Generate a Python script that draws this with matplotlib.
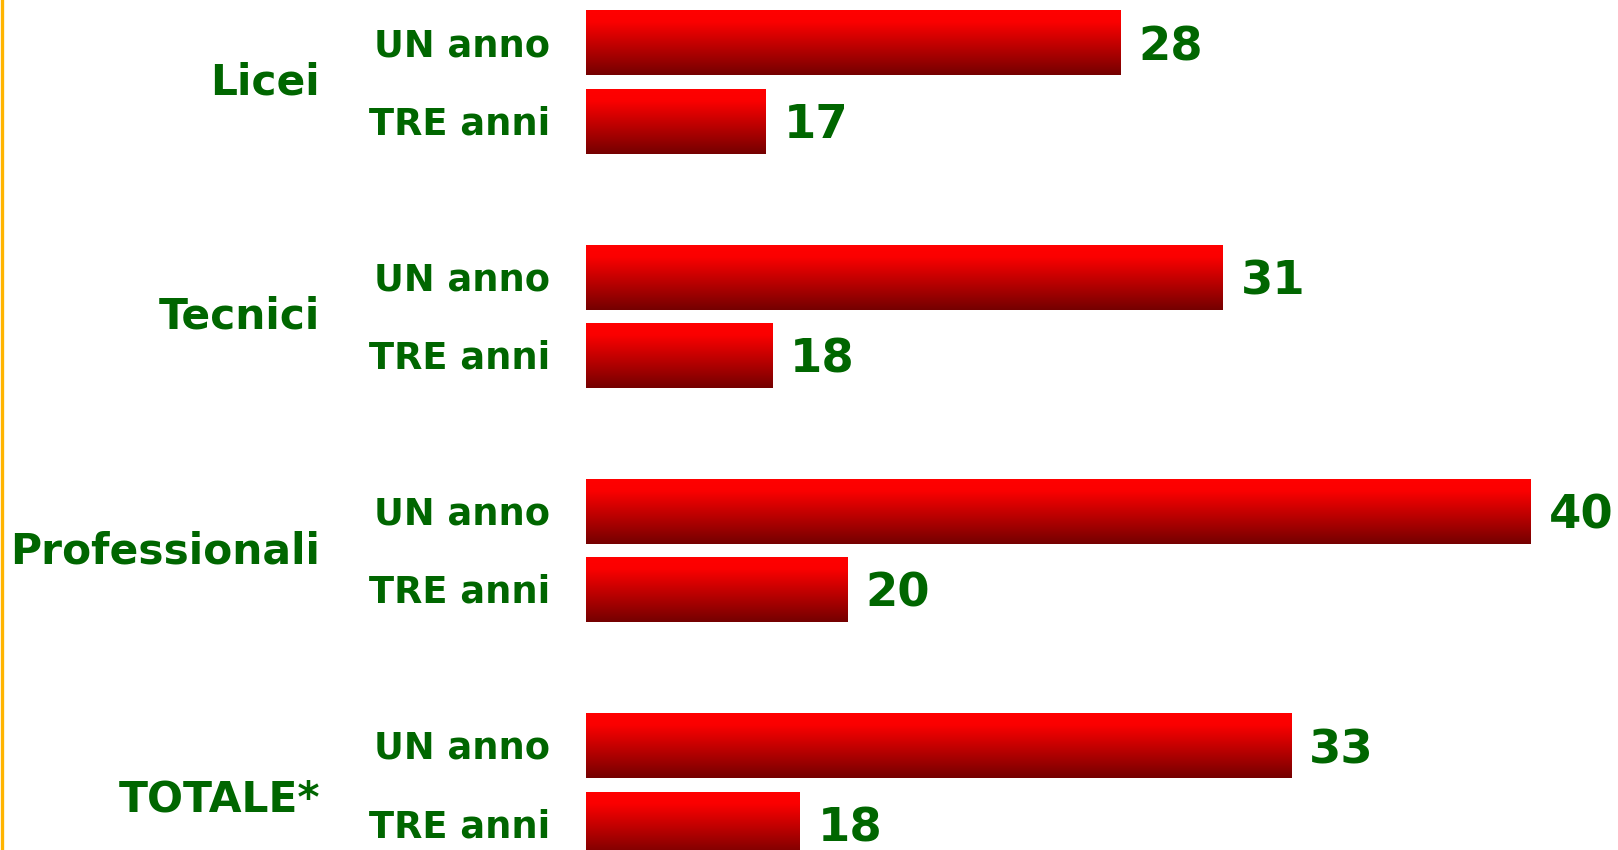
import numpy as np
import matplotlib
matplotlib.use("Agg")
import matplotlib.pyplot as plt
from matplotlib.colors import LinearSegmentedColormap
from matplotlib.transforms import blended_transform_factory, offset_copy

GROUPS = ["Licei", "Tecnici", "Professionali", "TOTALE*"]
PERIODS = ["UN anno", "TRE anni"]

UN_ANNO = [28, 31, 40, 33]
TRE_ANNI = [17.6, 17.8, 20, 18.6]

UN_ANNO_LABELS = ["28", "31", "40", "33"]
TRE_ANNI_LABELS = ["17", "18", "20", "18"]

GREEN = "#006600"
W, H, DPI = 1618, 850, 100

bar_cmap = LinearSegmentedColormap.from_list(
    "bar", [(0.0, "#ff0000"), (0.18, "#fb0000"), (1.0, "#740000")]
)


def draw_gradient_bar(ax, y, value, height):
    grad = np.linspace(0, 1, 256).reshape(-1, 1)
    ax.imshow(grad, cmap=bar_cmap, aspect="auto", origin="upper",
              extent=[0, value, y + height / 2, y - height / 2],
              interpolation="bilinear", zorder=2)


fig = plt.figure(figsize=(W / DPI, H / DPI), dpi=DPI)
fig.patch.set_facecolor("white")

# asse dei valori: la scala non parte da zero
x_left = 12.35
px_per_unit = 34.155
ax = fig.add_axes([586 / W, 0, 1 - 586 / W, 1])
ax.axis("off")

bar_h = 0.82
group_tr = blended_transform_factory(fig.transFigure, ax.transData)
lab_tr = offset_copy(group_tr, fig=fig, x=0, y=-1.5, units="points")

for i, group in enumerate(GROUPS):
    vals = [UN_ANNO[i], TRE_ANNI[i]]
    labs = [UN_ANNO_LABELS[i], TRE_ANNI_LABELS[i]]
    for j, (v, lab) in enumerate(zip(vals, labs)):
        y = 3 * i + j
        draw_gradient_bar(ax, y, v, bar_h)
        ax.annotate(lab, xy=(v, y), xytext=(13, -3), textcoords="offset points",
                    ha="left", va="center", fontsize=33.5, fontweight="bold",
                    color=GREEN, annotation_clip=False)
        ax.text(550 / W, y, PERIODS[j], transform=lab_tr, ha="right",
                va="center", fontsize=26.5, fontweight="bold", color=GREEN)
    y_group = 3 * i + 0.5 + (0.18 if i == len(GROUPS) - 1 else 0)
    ax.text(320 / W, y_group, group, transform=group_tr, ha="right",
            va="center", fontsize=30.5, fontweight="bold", color=GREEN)

ax.set_xlim(x_left, x_left + (W - 586) / px_per_unit)
ax.set_ylim(10.327, -0.556)

# linea arancione a sinistra
fig.add_artist(plt.Line2D([1.5 / W, 1.5 / W], [0, 1], transform=fig.transFigure,
                          color="#ffb400", linewidth=2.4))

fig.savefig("out.png", dpi=DPI, facecolor="white")
